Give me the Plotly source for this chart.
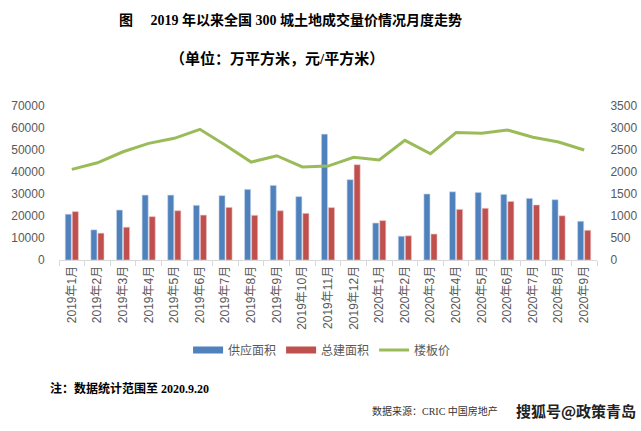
import plotly.graph_objects as go

months = ["2019年1月", "2019年2月", "2019年3月", "2019年4月", "2019年5月", "2019年6月",
          "2019年7月", "2019年8月", "2019年9月", "2019年10月", "2019年11月", "2019年12月",
          "2020年1月", "2020年2月", "2020年3月", "2020年4月", "2020年5月", "2020年6月",
          "2020年7月", "2020年8月", "2020年9月"]
supply_area = [20800, 13700, 22700, 29500, 29500, 24850, 29250, 32100, 33900, 28800, 57200, 36500,
               16800, 10800, 30000, 31000, 30700, 29800, 28000, 27400, 17600]
total_area = [22000, 12200, 14900, 19700, 22400, 20400, 23900, 20300, 22400, 21200, 23800, 43300,
              17900, 11000, 11800, 23000, 23500, 26600, 25000, 20100, 13500]
floor_price = [2060, 2210, 2460, 2650, 2765, 2970, 2610, 2225, 2370, 2115, 2135, 2335,
               2275, 2720, 2415, 2895, 2880, 2955, 2790, 2680, 2500]

gray = "#595959"
blue, red, green = "#4F81BD", "#C0504D", "#9BBB59"
fig = go.Figure()
fig.add_trace(go.Bar(x=months, y=supply_area, name="供应面积", showlegend=False,
                     marker=dict(color=blue, line=dict(color="#C6D5EA", width=0.6))))
fig.add_trace(go.Bar(x=months, y=total_area, name="总建面积", showlegend=False,
                     marker=dict(color=red, line=dict(color="#EBC5C4", width=0.6))))
fig.add_trace(go.Scatter(x=months, y=floor_price, name="楼板价", yaxis="y2", mode="lines",
                         showlegend=False, line=dict(color=green, width=3)))
# legend entries (Excel-style wide swatches)
for nm, col, w in [("供应面积", blue, 7), ("总建面积", red, 7), ("楼板价", green, 3)]:
    fig.add_trace(go.Scatter(x=[None], y=[None], name=nm, mode="lines",
                             line=dict(color=col, width=w), hoverinfo="skip"))

fig.update_layout(
    width=641, height=431,
    margin=dict(l=59, r=44, t=106, b=171, autoexpand=False),
    paper_bgcolor="white", plot_bgcolor="white",
    barmode="group", bargap=0.45, bargroupgap=0.14,
    font=dict(family="Liberation Sans, Noto Sans CJK SC, sans-serif", size=12, color=gray),
    xaxis=dict(type="category", categoryorder="array", categoryarray=months,
               tickangle=-90, showline=True, linecolor="#D9D9D9", linewidth=1,
               ticks="outside", tickson="boundaries", ticklen=5, tickcolor="#D9D9D9",
               tickfont=dict(size=12, color=gray, family="Liberation Sans, Noto Sans CJK SC"),
               showgrid=False, automargin=False),
    yaxis=dict(range=[0, 70000], dtick=10000, tickformat="d", showgrid=False, showline=False,
               zeroline=False, tickfont=dict(size=12, color=gray), ticks="outside", ticklen=11,
               tickcolor="rgba(0,0,0,0)", automargin=False),
    yaxis2=dict(range=[0, 3500], dtick=500, tickformat="d", overlaying="y", side="right",
                showgrid=False, showline=False, zeroline=False, automargin=False,
                ticks="outside", ticklen=10, tickcolor="rgba(0,0,0,0)",
                tickfont=dict(size=12, color=gray)),
    legend=dict(orientation="h", x=0.489, y=-0.584, xanchor="center", yanchor="middle",
                font=dict(size=12, color=gray, family="Noto Sans CJK SC"),
                itemwidth=30, traceorder="normal"),
    showlegend=True,
)

serif = "Liberation Serif, Noto Sans CJK SC, serif"
fig.add_annotation(text="<b>图　 2019 年以来全国 300 城土地成交量价情况月度走势</b>", xref="paper", yref="paper",
                   x=(291 - 59) / 538.7, y=(260 - 20) / 154, showarrow=False,
                   font=dict(family=serif, size=14, color="black"), xanchor="center", yanchor="middle")
fig.add_annotation(text="<b>（单位：万平方米，元/平方米）</b>", xref="paper", yref="paper",
                   x=(277 - 59) / 538.7, y=(260 - 59) / 154, showarrow=False,
                   font=dict(family=serif, size=15, color="black"), xanchor="center", yanchor="middle")
fig.add_annotation(text="<b>注：数据统计范围至 2020.9.20</b>", xref="paper", yref="paper",
                   x=(48 - 59) / 538.7, y=(260 - 388) / 154, showarrow=False,
                   font=dict(family=serif, size=12, color="black"), xanchor="left", yanchor="middle")
fig.add_annotation(text="数据来源：CRIC 中国房地产", xref="paper", yref="paper",
                   x=(370 - 59) / 538.7, y=(260 - 411) / 154, showarrow=False,
                   font=dict(family=serif, size=10, color="#333333"), xanchor="left", yanchor="middle")
fig.add_annotation(text="<b>搜狐号@政策青岛</b>", xref="paper", yref="paper",
                   x=(639 - 59) / 538.7, y=(260 - 410) / 154, showarrow=False,
                   font=dict(family="Noto Sans CJK SC", size=15, color="#222222"),
                   xanchor="right", yanchor="middle")

fig.write_html("out.html", config={"displayModeBar": False},
               post_script="document.body.style.margin='0px';")
